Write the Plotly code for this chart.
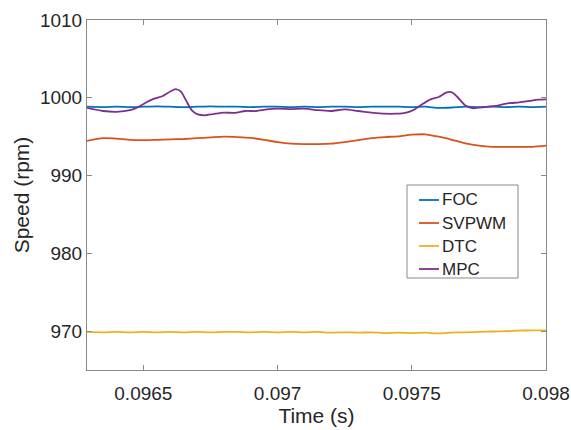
import plotly.graph_objects as go

# Shared time grid for the smoother series
t_grid = [0.09629, 0.09635, 0.09640, 0.09645, 0.09650, 0.09655, 0.09660, 0.09665,
          0.09670, 0.09675, 0.09680, 0.09685, 0.09690, 0.09695, 0.09700, 0.09705,
          0.09710, 0.09715, 0.09720, 0.09725, 0.09730, 0.09735, 0.09740, 0.09745,
          0.09750, 0.09755, 0.09760, 0.09765, 0.09770, 0.09775, 0.09780, 0.09785,
          0.09790, 0.09795, 0.09800]

foc = [998.85, 998.8, 998.85, 998.8, 998.85, 998.9, 998.85, 998.8,
       998.85, 998.9, 998.85, 998.85, 998.8, 998.85, 998.85, 998.8,
       998.85, 998.8, 998.85, 998.85, 998.8, 998.85, 998.85, 998.85,
       998.8, 998.85, 998.7, 998.75, 998.85, 998.8, 998.85, 998.8,
       998.85, 998.8, 998.85]

svpwm = [994.45, 994.8, 994.75, 994.6, 994.55, 994.6, 994.65, 994.7,
         994.8, 994.9, 995.0, 994.95, 994.85, 994.6, 994.3, 994.1,
         994.05, 994.05, 994.1, 994.3, 994.55, 994.8, 994.95, 995.05,
         995.25, 995.3, 995.0, 994.6, 994.15, 993.85, 993.7, 993.7,
         993.7, 993.7, 993.85]

dtc = [969.9, 969.85, 969.9, 969.85, 969.9, 969.85, 969.9, 969.85,
       969.9, 969.85, 969.9, 969.9, 969.85, 969.9, 969.85, 969.9,
       969.85, 969.9, 969.8, 969.85, 969.8, 969.85, 969.75, 969.8,
       969.75, 969.8, 969.7, 969.8, 969.85, 969.9, 969.95, 970.0,
       970.05, 970.1, 970.1]

# MPC needs a finer grid around its bumps
t_mpc = [0.09629, 0.09635, 0.09640, 0.09645, 0.09648, 0.09651, 0.09654, 0.09657,
         0.09660, 0.09662, 0.09664, 0.09666, 0.09668, 0.09670, 0.09673, 0.09676,
         0.09680, 0.09684, 0.09688, 0.09692, 0.09696, 0.09700, 0.09705, 0.09710,
         0.09715, 0.09720, 0.09725, 0.09730, 0.09735, 0.09740, 0.09744, 0.09748,
         0.09751, 0.09754, 0.09757, 0.09760, 0.09763, 0.09765, 0.09767, 0.09770,
         0.09773, 0.09777, 0.09782, 0.09786, 0.09790, 0.09794, 0.09797, 0.09800]
mpc = [998.7, 998.3, 998.2, 998.4, 998.8, 999.4, 999.9, 1000.2,
       1000.8, 1001.1, 1000.8, 999.6, 998.4, 997.9, 997.75, 997.9,
       998.1, 998.05, 998.3, 998.3, 998.5, 998.6, 998.55, 998.6,
       998.4, 998.3, 998.5, 998.3, 998.1, 997.95, 997.95, 998.1,
       998.5, 999.2, 999.8, 1000.1, 1000.7, 1000.7, 1000.1, 999.0,
       998.65, 998.8, 999.0, 999.3, 999.4, 999.6, 999.75, 999.8]

x_ticks = [0.0965, 0.097, 0.0975, 0.098]
x_tick_labels = ["0.0965", "0.097", "0.0975", "0.098"]
y_ticks = [970, 980, 990, 1000, 1010]

series = [
    ("FOC", t_grid, foc, "#0072BD"),
    ("SVPWM", t_grid, svpwm, "#D95319"),
    ("DTC", t_grid, dtc, "#EDB120"),
    ("MPC", t_mpc, mpc, "#7E2F8E"),
]

axis_col = "#8a8a8a"
txt_col = "#262626"
font_family = "Liberation Sans, Arial, sans-serif"

W, H = 571, 430
ML, MR, MT, MB = 87, 25, 20, 60
PW, PH = W - ML - MR, H - MT - MB


def px_x(p):
    return (p - ML) / PW


def px_y(p):
    return (H - MB - p) / PH


fig = go.Figure()
for name, xs, ys, col in series:
    fig.add_trace(go.Scatter(x=xs, y=ys, mode="lines", name=name, showlegend=False,
                             line=dict(color=col, width=1.8, shape="spline", smoothing=0.6)))

# Legend box drawn in paper coordinates (MATLAB-style)
shapes = [dict(type="rect", xref="paper", yref="paper",
               x0=px_x(407), x1=px_x(518), y0=px_y(278), y1=px_y(185),
               line=dict(color=axis_col, width=1), fillcolor="white", layer="above")]
annotations = []
for i, (name, _, _, col) in enumerate(series):
    yy = px_y(200 + 23 * i)
    shapes.append(dict(type="line", xref="paper", yref="paper",
                       x0=px_x(419), x1=px_x(439), y0=yy, y1=yy,
                       line=dict(color=col, width=1.8), layer="above"))
    annotations.append(dict(xref="paper", yref="paper", x=px_x(440), y=yy,
                            text=name, showarrow=False, xanchor="left", yanchor="middle",
                            font=dict(size=17, color=txt_col, family=font_family)))

fig.update_layout(
    width=W, height=H,
    margin=dict(l=ML, r=MR, t=MT, b=MB, autoexpand=False),
    paper_bgcolor="white", plot_bgcolor="white",
    font=dict(family=font_family, color=txt_col, size=19),
    showlegend=False,
    shapes=shapes, annotations=annotations,
    xaxis=dict(range=[0.09629, 0.098], tickvals=x_ticks, ticktext=x_tick_labels,
               showgrid=False, zeroline=False, showline=True, linecolor=axis_col,
               linewidth=1, mirror="ticks", ticks="inside", ticklen=5,
               tickcolor=axis_col, tickfont=dict(size=19, color=txt_col),
               ticklabelstandoff=6, automargin=False,
               title=dict(text="Time (s)", font=dict(size=21, color=txt_col), standoff=4)),
    yaxis=dict(range=[965, 1010], tickvals=y_ticks,
               showgrid=False, zeroline=False, showline=True, linecolor=axis_col,
               linewidth=1, mirror="ticks", ticks="inside", ticklen=5,
               tickcolor=axis_col, tickfont=dict(size=19, color=txt_col),
               automargin=False,
               title=dict(text="Speed (rpm)", font=dict(size=21, color=txt_col), standoff=4)),
)

fig.write_html("out.html")
